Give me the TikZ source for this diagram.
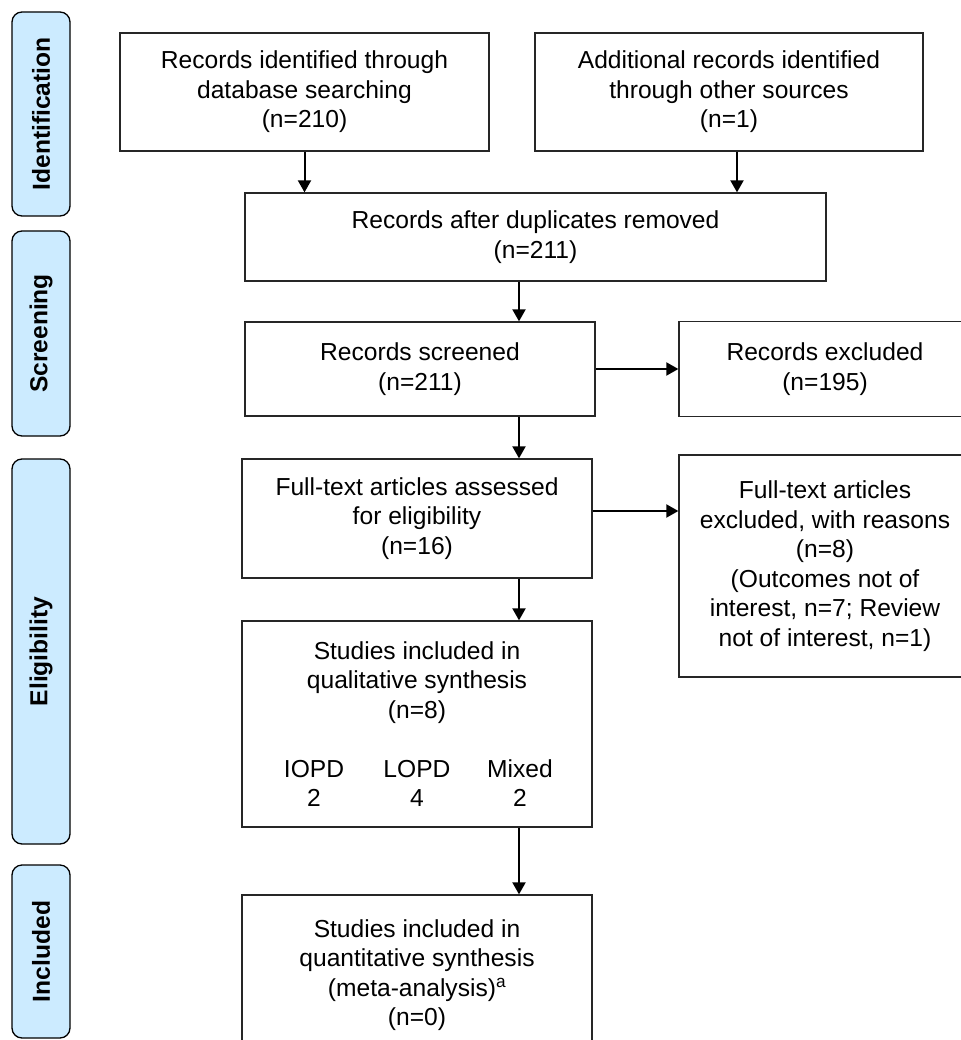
\documentclass[tikz,border=0pt]{standalone}
\usepackage{fontspec}
\setmainfont{Liberation Sans}
\usepackage{tikz}
\usetikzlibrary{arrows.meta,positioning}
\definecolor{tabfill}{HTML}{CCEBFF}
\definecolor{edge}{HTML}{262626}
\tikzset{
  box/.style={draw=edge, line width=1.3pt, align=center, inner sep=0pt, font=\fontsize{24.6pt}{29.5pt}\selectfont},
  phase/.style={draw=black, fill=tabfill, rounded corners=10pt, line width=1.3pt, rotate=90, inner sep=0pt, minimum height=58pt, font=\fontsize{24.6pt}{29.5pt}\selectfont\bfseries},
  arr/.style={draw=black, line width=2pt, -{Triangle[length=12pt,width=13pt]}},
}

\begin{document}
\begin{tikzpicture}[x=1pt,y=-1pt]
\useasboundingbox (0,0) rectangle (960,1040);
\node[phase, minimum width=204pt] (pid) at (41,114) {Identification};
\node[phase, minimum width=205pt] (psc) at (41,333.5) {Screening};
\node[phase, minimum width=385pt] (pel) at (41,651.5) {Eligibility};
\node[phase, minimum width=173pt] (pin) at (41,951.5) {Included};

\node[box, minimum width=369pt, minimum height=118pt] (db) at (304.5,92) {Records identified through\\database searching\\(n=210)};
\node[box, minimum width=388pt, minimum height=118pt] (oth) at (729,92) {Additional records identified\\through other sources\\(n=1)};
\node[box, minimum width=581pt, minimum height=88pt] (dup) at (535.5,237) {Records after duplicates removed\\(n=211)};
\node[box, minimum width=350pt, minimum height=94pt] (scr) at (420,369) {Records screened\\(n=211)};
\node[box, minimum width=292pt, minimum height=95pt] (exc) at (825,369) {Records excluded\\(n=195)};
\node[box, minimum width=350pt, minimum height=119pt] (ft) at (417,518.5) {Full-text articles assessed\\for eligibility\\(n=16)};
\node[box, minimum width=292pt, minimum height=222pt] (ftx) at (825,566) {Full-text articles\\excluded, with reasons\\(n=8)\\(Outcomes not of\\interest, n=7; Review\\not of interest, n=1)};
\node[box, minimum width=350pt, minimum height=206pt] (qual) at (417,724) {Studies included in\\qualitative synthesis\\(n=8)\\[29.5pt]\makebox[103pt]{IOPD}\makebox[103pt]{LOPD}\makebox[103pt]{Mixed}\\\makebox[103pt]{2}\makebox[103pt]{4}\makebox[103pt]{2}};
\node[box, minimum width=350pt, minimum height=160pt] (qnt) at (417,975) {Studies included in\\quantitative synthesis\\(meta-analysis)\textsuperscript{a}\\(n=0)};

\coordinate (spine) at (519,0);
\coordinate (othx) at (737,0);
\draw[arr] (db.south) -- (db.south |- dup.north);
\draw[arr] (oth.south -| othx) -- (dup.north -| othx);
\draw[arr] (dup.south -| spine) -- (scr.north -| spine);
\draw[arr] (scr.east) -- (exc.west);
\draw[arr] (scr.south -| spine) -- (ft.north -| spine);
\draw[arr] ([yshift=7.5pt]ft.east) -- ([yshift=7.5pt]ft.east -| ftx.west);
\draw[arr] (ft.south -| spine) -- (qual.north -| spine);
\draw[arr] (qual.south -| spine) -- (qnt.north -| spine);
\end{tikzpicture}
\end{document}
